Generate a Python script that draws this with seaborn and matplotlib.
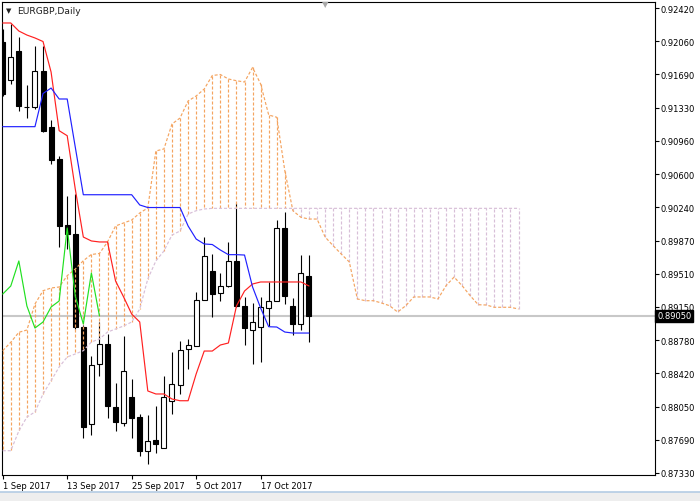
import matplotlib
matplotlib.use("Agg")
import matplotlib.pyplot as plt
import matplotlib.transforms as mtransforms
from matplotlib.lines import Line2D
from matplotlib.patches import Rectangle
import numpy as np
import pandas as pd
import seaborn as sns


# EURGBP daily candles, 1 Sep 2017 .. 25 Oct 2017
OPEN = [0.92048, 0.91632, 0.91949, 0.91331, 0.91336, 0.91730, 0.91117, 0.90767, 0.90045, 0.89946,
        0.88928, 0.87866, 0.88523, 0.88742, 0.88052, 0.87877, 0.88162, 0.87943, 0.87571, 0.87691,
        0.87604, 0.88118, 0.88293, 0.88687, 0.88720, 0.89224, 0.89541, 0.89300, 0.89377, 0.89651,
        0.89158, 0.88895, 0.88928, 0.89136, 0.89213, 0.90012, 0.89158, 0.88961, 0.89486]
HIGH = [0.92190, 0.92245, 0.92103, 0.91577, 0.92004, 0.92004, 0.91194, 0.90800, 0.90362, 0.90384,
        0.88950, 0.88611, 0.88983, 0.88852, 0.88315, 0.88830, 0.88359, 0.87976, 0.87965, 0.88063,
        0.88392, 0.88654, 0.88775, 0.88797, 0.89311, 0.89913, 0.89727, 0.89519, 0.89859, 0.90285,
        0.89257, 0.89191, 0.89257, 0.89421, 0.90099, 0.90187, 0.89246, 0.89716, 0.89716]
LOW = [0.91457, 0.91588, 0.91293, 0.91216, 0.91314, 0.91063, 0.90712, 0.89804, 0.89782, 0.88906,
       0.87713, 0.87746, 0.88392, 0.87932, 0.87790, 0.87844, 0.87713, 0.87516, 0.87429, 0.87549,
       0.87604, 0.87976, 0.88195, 0.88468, 0.88720, 0.89224, 0.89038, 0.89213, 0.89366, 0.89147,
       0.88731, 0.88523, 0.88545, 0.88939, 0.89213, 0.89180, 0.88841, 0.88895, 0.88764]
CLOSE = [0.91479, 0.91884, 0.91347, 0.91336, 0.91730, 0.91074, 0.90756, 0.90034, 0.89946, 0.88928,
         0.87834, 0.88512, 0.88742, 0.88063, 0.87888, 0.88447, 0.87932, 0.87571, 0.87680, 0.87647,
         0.88162, 0.88304, 0.88676, 0.88731, 0.89224, 0.89705, 0.89289, 0.89377, 0.89651, 0.89158,
         0.88917, 0.88983, 0.89147, 0.89213, 0.90012, 0.89267, 0.88961, 0.89519, 0.89050]

# Ichimoku lines
TENKAN = [0.92256, 0.92256, 0.92168, 0.92124, 0.92092, 0.92053, 0.91719, 0.91077, 0.91022, 0.90439,
          0.89913, 0.89870, 0.89859, 0.89859, 0.89432, 0.89257, 0.89070, 0.88983, 0.88228, 0.88195,
          0.88195, 0.88140, 0.88121, 0.88121, 0.88414, 0.88665, 0.88665, 0.88731, 0.88753, 0.89158,
          0.89322, 0.89399, 0.89421, 0.89421, 0.89421, 0.89421, 0.89421, 0.89421, 0.89377]
KIJUN = [0.91121, 0.91121, 0.91121, 0.91121, 0.91121, 0.91484, 0.91544, 0.91424, 0.91424, 0.90898,
         0.90376, 0.90376, 0.90376, 0.90376, 0.90376, 0.90376, 0.90376, 0.90264, 0.90236, 0.90236,
         0.90236, 0.90236, 0.90236, 0.90034, 0.89891, 0.89837, 0.89831, 0.89771, 0.89720, 0.89720,
         0.89716, 0.89366, 0.89136, 0.88931, 0.88928, 0.88873, 0.88862, 0.88862, 0.88862]
CHIKOU = [0.89289, 0.89377, 0.89651, 0.89158, 0.88917, 0.88983, 0.89147, 0.89213, 0.90012, 0.89267,
          0.88961, 0.89519, 0.89050]
SPAN_A = [0.88669, 0.88761, 0.88870, 0.88895, 0.89180, 0.89325, 0.89355, 0.89366, 0.89490, 0.89563,
          0.89654, 0.89722, 0.89733, 0.89859, 0.90034, 0.90067, 0.90099, 0.90176, 0.90231, 0.90855,
          0.90877, 0.91150, 0.91216, 0.91402, 0.91457, 0.91533, 0.91681, 0.91692, 0.91643, 0.91624,
          0.91610, 0.91769, 0.91588, 0.91249, 0.91224, 0.90639, 0.90201, 0.90129, 0.90110, 0.90110,
          0.89913, 0.89818, 0.89727, 0.89640, 0.89235, 0.89216, 0.89216, 0.89191, 0.89161, 0.89092,
          0.89161, 0.89257, 0.89257, 0.89257, 0.89235, 0.89380, 0.89475, 0.89380, 0.89271, 0.89172,
          0.89169, 0.89144, 0.89144, 0.89144, 0.89125]
SPAN_B = [0.87574, 0.87574, 0.87790, 0.87943, 0.87998, 0.88195, 0.88340, 0.88490, 0.88600, 0.88633,
          0.88669, 0.88764, 0.88797, 0.88873, 0.88906, 0.88939, 0.88983, 0.89125, 0.89454, 0.89651,
          0.89760, 0.89935, 0.89979, 0.90165, 0.90201, 0.90220, 0.90227, 0.90227, 0.90227, 0.90227,
          0.90227, 0.90227, 0.90227, 0.90227, 0.90227, 0.90227, 0.90227, 0.90227, 0.90227, 0.90227,
          0.90227, 0.90227, 0.90227, 0.90227, 0.90227, 0.90227, 0.90227, 0.90227, 0.90227, 0.90227,
          0.90227, 0.90227, 0.90227, 0.90227, 0.90227, 0.90227, 0.90227, 0.90227, 0.90227, 0.90227,
          0.90227, 0.90227, 0.90227, 0.90227, 0.90227]

DATE_LABELS = ["1 Sep 2017", "13 Sep 2017", "25 Sep 2017", "5 Oct 2017", "17 Oct 2017"]
DATE_BARS = [0, 8, 16, 24, 32]
PRICE_LABELS = ["0.87330", "0.87690", "0.88050", "0.88420", "0.88780", "0.89150", "0.89510",
                "0.89870", "0.90240", "0.90600", "0.90960", "0.91330", "0.91690", "0.92060", "0.92420"]
LAST_PRICE = 0.89050
SYMBOL = "EURGBP,Daily"

SANDY = "#F4A460"
THISTLE = "#D8BFD8"
DOTS = (0, (2.2, 1.4))


def draw_candles(ax, bars):
    ax.vlines(bars["bar"], bars["low"], bars["high"], color="black", lw=0.8, zorder=2)
    up = bars["close"] >= bars["open"]
    bottom = np.minimum(bars["open"], bars["close"])
    height = np.maximum((bars["close"] - bars["open"]).abs(), 0.00004)
    ax.bar(bars["bar"][up], height[up], bottom=bottom[up], width=0.62,
           facecolor="white", edgecolor="black", linewidth=0.8, zorder=3)
    ax.bar(bars["bar"][~up], height[~up], bottom=bottom[~up], width=0.62,
           facecolor="black", edgecolor="black", linewidth=0.8, zorder=3)


def draw_cloud(ax, cloud):
    colors = np.where(cloud["a"] >= cloud["b"], SANDY, THISTLE)
    ax.vlines(cloud["bar"], cloud["a"], cloud["b"], colors=colors, lw=0.85,
              linestyles=[DOTS], zorder=4)
    sns.lineplot(data=cloud, x="bar", y="a", ax=ax, color=SANDY, lw=0.85,
                 linestyle=DOTS, estimator=None, zorder=4)
    sns.lineplot(data=cloud, x="bar", y="b", ax=ax, color=THISTLE, lw=0.85,
                 linestyle=DOTS, estimator=None, zorder=4)


def main() -> None:
    sns.set_theme(style="white")
    plt.rcParams["font.family"] = ["DejaVu Sans"]
    plt.rcParams["lines.scale_dashes"] = False

    bars = pd.DataFrame({"bar": np.arange(len(OPEN)), "open": OPEN, "high": HIGH,
                         "low": LOW, "close": CLOSE})
    lines = pd.DataFrame({"bar": np.arange(len(TENKAN)), "tenkan": TENKAN, "kijun": KIJUN})
    chikou = pd.DataFrame({"bar": np.arange(len(CHIKOU)), "chikou": CHIKOU})
    cloud = pd.DataFrame({"bar": np.arange(len(SPAN_A)), "a": SPAN_A, "b": SPAN_B})

    fig = plt.figure(figsize=(7, 5.02), dpi=100)
    fig.patch.set_facecolor("white")
    ax = fig.add_axes([2 / 700, 26 / 502, 653 / 700, 473 / 502])
    ax.set_facecolor("white")

    ax.axhline(LAST_PRICE, color="#C8C8C8", lw=1.5, zorder=1)
    draw_candles(ax, bars)
    draw_cloud(ax, cloud)

    sns.lineplot(data=lines, x="bar", y="tenkan", ax=ax, color="#FF2020", lw=0.85,
                 estimator=None, zorder=5)
    sns.lineplot(data=lines, x="bar", y="kijun", ax=ax, color="#2020FF", lw=0.85,
                 estimator=None, zorder=5)
    sns.lineplot(data=chikou, x="bar", y="chikou", ax=ax, color="#20E020", lw=0.85,
                 estimator=None, zorder=5)

    ax.set_xlim(-0.09, 80.93)
    ax.set_ylim(0.873081, 0.924857)
    ax.set_xlabel("")
    ax.set_ylabel("")

    ax.set_xticks(DATE_BARS)
    ax.set_xticklabels(DATE_LABELS, ha="left")
    ax.set_yticks(np.linspace(0.87330, 0.92420, len(PRICE_LABELS)))
    ax.set_yticklabels(PRICE_LABELS)
    ax.yaxis.tick_right()
    ax.tick_params(axis="both", direction="out", length=3, width=0.8, colors="black",
                   labelsize=6.0, bottom=True, right=True, left=False)
    ax.tick_params(axis="y", pad=1.2)
    ax.tick_params(axis="x", pad=1.5)
    for spine in ax.spines.values():
        spine.set_color("black")
        spine.set_linewidth(0.8)

    trans = mtransforms.blended_transform_factory(ax.transAxes, ax.transData)
    ax.text(1.0035, LAST_PRICE, f"{LAST_PRICE:.5f}", transform=trans, ha="left", va="center",
            fontsize=6.0, color="white", zorder=10,
            bbox=dict(boxstyle="square,pad=0.22", facecolor="black", edgecolor="black"))

    fig.text(6 / 700, 1 - 11 / 502, "\u25bc", fontsize=5, color="#202020", ha="left", va="center")
    fig.text(17 / 700, 1 - 11 / 502, SYMBOL, fontsize=6.6, color="#202020", ha="left", va="center")
    fig.text(325 / 700, 1 - 5 / 502, "\u25bc", fontsize=6, color="#A8A8A8", ha="center", va="center")

    fig.patches.append(Rectangle((0, 0), 1, 9 / 502, transform=fig.transFigure,
                                 facecolor="#EEEEEE", edgecolor="none"))
    fig.lines.append(Line2D([0, 1], [9 / 502, 9 / 502], transform=fig.transFigure,
                            color="#B4CCE4", lw=1.2))

    fig.savefig("out.png", dpi=100)
    plt.close(fig)


if __name__ == "__main__":
    main()
